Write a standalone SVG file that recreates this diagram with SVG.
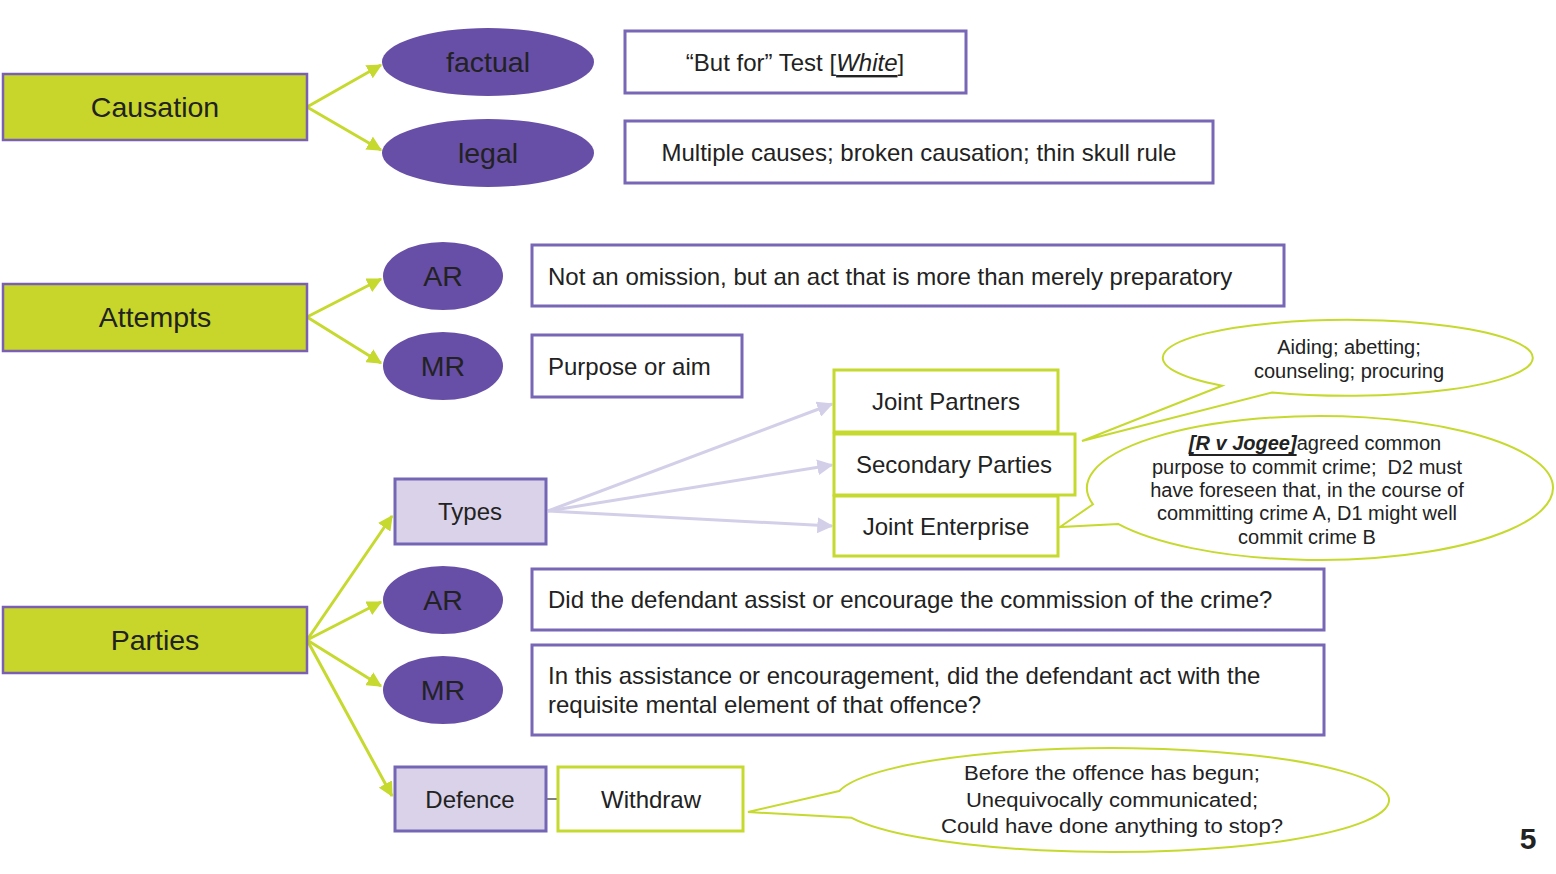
<svg xmlns="http://www.w3.org/2000/svg" width="1556" height="874" viewBox="0 0 1556 874">
<defs>
<style>
text{font-family:"Liberation Sans",Arial,sans-serif;fill:#222;dominant-baseline:central}
.big{font-size:28.5px;text-anchor:middle}
.mid{font-size:24px}
.c{text-anchor:middle}
.sm{font-size:20px;text-anchor:middle}
.main{fill:#c8d62b;stroke:#7a5fb3;stroke-width:2.5}
.ell{fill:#674ea7}
.info{fill:#fff;stroke:#7866b6;stroke-width:3}
.sub{fill:#fff;stroke:#c6d92e;stroke-width:3}
.lav{fill:#d9d2e9;stroke:#7566b5;stroke-width:3}
.callout{fill:#fff;stroke:#c6d92e;stroke-width:2}
.g{stroke:#c6d92e;stroke-width:3;fill:none}
.p{stroke:#d3cfe8;stroke-width:3;fill:none}
</style>
<marker id="ag" viewBox="0 0 12 12" refX="11" refY="6" markerWidth="15" markerHeight="15" markerUnits="userSpaceOnUse" orient="auto"><path d="M0,0 L12,6 L0,12 Z" fill="#c6d92e"/></marker>
<marker id="ap" viewBox="0 0 12 12" refX="11" refY="6" markerWidth="16" markerHeight="16" markerUnits="userSpaceOnUse" orient="auto"><path d="M0,0 L12,6 L0,12 Z" fill="#d3cfe8"/></marker>
</defs>
<rect width="1556" height="874" fill="#fff"/>

<g id="connectors">
<line class="g" x1="307" y1="107" x2="381" y2="65" marker-end="url(#ag)"/>
<line class="g" x1="307" y1="107" x2="381" y2="150" marker-end="url(#ag)"/>
<line class="g" x1="307" y1="317" x2="381" y2="279" marker-end="url(#ag)"/>
<line class="g" x1="307" y1="317" x2="381" y2="363" marker-end="url(#ag)"/>
<line class="g" x1="307" y1="640" x2="392" y2="516" marker-end="url(#ag)"/>
<line class="g" x1="307" y1="640" x2="381" y2="602" marker-end="url(#ag)"/>
<line class="g" x1="307" y1="640" x2="381" y2="686" marker-end="url(#ag)"/>
<line class="g" x1="307" y1="640" x2="392" y2="796" marker-end="url(#ag)"/>
<line class="p" x1="548" y1="511" x2="832" y2="404" marker-end="url(#ap)"/>
<line class="p" x1="548" y1="511" x2="832" y2="465" marker-end="url(#ap)"/>
<line class="p" x1="548" y1="511" x2="832" y2="526" marker-end="url(#ap)"/>
<line x1="546" y1="799" x2="558" y2="799" stroke="#555" stroke-width="1.5"/>
</g>

<g id="causation"><rect class="main" x="3" y="74" width="304" height="66"/><text class="big" x="155" y="107">Causation</text></g>
<g id="factual"><ellipse class="ell" cx="488" cy="62" rx="106" ry="34"/><text class="big" x="488" y="62">factual</text></g>
<g id="legal"><ellipse class="ell" cx="488" cy="153" rx="106" ry="34"/><text class="big" x="488" y="153">legal</text></g>
<g id="butfor"><rect class="info" x="625" y="31" width="341" height="62"/><text class="mid c" x="795" y="62">“But for” Test [<tspan font-style="italic" text-decoration="underline">White</tspan>]</text></g>
<g id="multiple"><rect class="info" x="625" y="121" width="588" height="62"/><text class="mid c" x="919" y="152">Multiple causes; broken causation; thin skull rule</text></g>

<g id="attempts"><rect class="main" x="3" y="284" width="304" height="67"/><text class="big" x="155" y="317">Attempts</text></g>
<g id="att-ar"><ellipse class="ell" cx="443" cy="276" rx="60" ry="34"/><text class="big" x="443" y="276">AR</text></g>
<g id="att-mr"><ellipse class="ell" cx="443" cy="366" rx="60" ry="34"/><text class="big" x="443" y="366">MR</text></g>
<g id="omission"><rect class="info" x="532" y="245" width="752" height="61"/><text class="mid" x="548" y="276">Not an omission, but an act that is more than merely preparatory</text></g>
<g id="purpose"><rect class="info" x="532" y="335" width="210" height="62"/><text class="mid" x="548" y="366">Purpose or aim</text></g>

<g id="parties"><rect class="main" x="3" y="607" width="304" height="66"/><text class="big" x="155" y="640">Parties</text></g>
<g id="types"><rect class="lav" x="395" y="479" width="151" height="65"/><text class="mid c" x="470" y="511">Types</text></g>
<g id="joint-partners"><rect class="sub" x="834" y="370" width="224" height="62"/><text class="mid c" x="946" y="401">Joint Partners</text></g>
<g id="secondary"><rect class="sub" x="834" y="434" width="241" height="61"/><text class="mid c" x="954" y="464">Secondary Parties</text></g>
<g id="joint-enterprise"><rect class="sub" x="834" y="496" width="224" height="60"/><text class="mid c" x="946" y="526">Joint Enterprise</text></g>
<g id="par-ar"><ellipse class="ell" cx="443" cy="600" rx="60" ry="34"/><text class="big" x="443" y="600">AR</text></g>
<g id="par-mr"><ellipse class="ell" cx="443" cy="690" rx="60" ry="34"/><text class="big" x="443" y="690">MR</text></g>
<g id="assist"><rect class="info" x="532" y="569" width="792" height="61"/><text class="mid" x="548" y="599">Did the defendant assist or encourage the commission of the crime?</text></g>
<g id="mental"><rect class="info" x="532" y="645" width="792" height="90"/><text class="mid" x="548" y="675">In this assistance or encouragement, did the defendant act with the</text><text class="mid" x="548" y="704">requisite mental element of that offence?</text></g>
<g id="defence"><rect class="lav" x="395" y="767" width="151" height="64"/><text class="mid c" x="470" y="799">Defence</text></g>
<g id="withdraw"><rect class="sub" x="558" y="767" width="185" height="64"/><text class="mid c" x="651" y="799">Withdraw</text></g>

<g id="callout-aiding"><path class="callout" d="M1222,385.7 L1082,441 L1272,392.5 A185 38 0 1 0 1222,385.7 Z"/><text class="sm" x="1349" y="347">Aiding; abetting;</text><text class="sm" x="1349" y="371">counseling; procuring</text></g>
<g id="callout-jogee"><path class="callout" d="M1093,504.3 L1060,527 L1118,523.9 A233 72 0 1 0 1093,504.3 Z"/>
<text class="sm" x="1315" y="443"><tspan font-weight="bold" font-style="italic" text-decoration="underline">[R v Jogee]</tspan>agreed common</text>
<text class="sm" x="1307" y="467" xml:space="preserve">purpose to commit crime;  D2 must</text>
<text class="sm" x="1307" y="490">have foreseen that, in the course of</text>
<text class="sm" x="1307" y="513">committing crime A, D1 might well</text>
<text class="sm" x="1307" y="537">commit crime B</text></g>
<g id="callout-withdraw"><path class="callout" d="M839.3,791 L748,812 L851.7,817.8 A277 52 0 1 0 839.3,791 Z"/>
<text class="sm" x="1112" y="773" font-size="22" textLength="296" lengthAdjust="spacingAndGlyphs">Before the offence has begun;</text>
<text class="sm" x="1112" y="800" font-size="22" textLength="292" lengthAdjust="spacingAndGlyphs">Unequivocally communicated;</text>
<text class="sm" x="1112" y="826" font-size="22" textLength="342" lengthAdjust="spacingAndGlyphs">Could have done anything to stop?</text></g>

<text x="1528" y="838" font-size="30" font-weight="bold" text-anchor="middle" fill="#111">5</text>
</svg>
